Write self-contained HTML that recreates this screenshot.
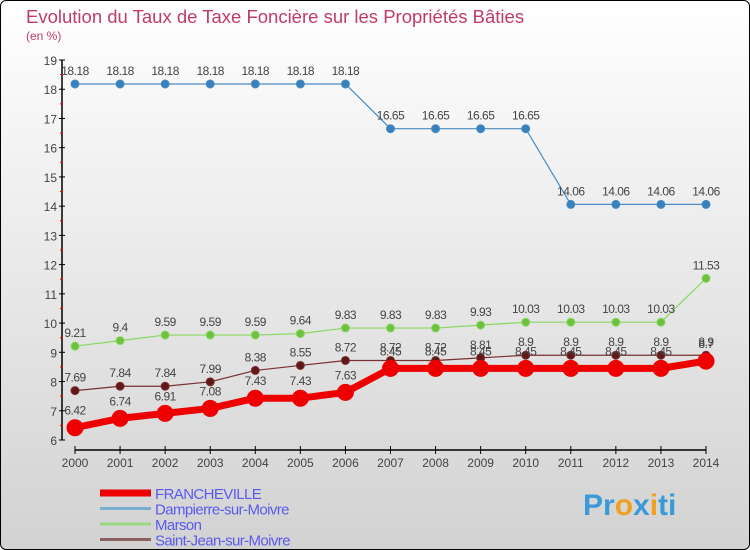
<!DOCTYPE html>
<html><head><meta charset="utf-8"><style>
html,body{margin:0;padding:0;}
body{width:750px;height:550px;overflow:hidden;font-family:"Liberation Sans",sans-serif;}
#frame{position:absolute;left:0;top:0;width:748px;height:548px;border:1px solid #000;border-radius:6px;background:linear-gradient(#ffffff,#d2d2d2);overflow:hidden;}
</style></head><body>
<div id="frame">
<svg id="chart" width="750" height="550" xmlns="http://www.w3.org/2000/svg" style="position:absolute;left:-1px;top:-1px">
<text x="26" y="23" font-size="18.5" fill="#c03a6a">Evolution du Taux de Taxe Foncière sur les Propriétés Bâties</text>
<text x="26" y="40" font-size="12" fill="#c03a6a">(en %)</text>
<g id="axes"></g><g id="series"></g><g id="legend"></g>
<text x="583" y="515" font-size="30" font-weight="bold" fill="#3a9ad9">Pr<tspan fill="#f0a020">o</tspan>x<tspan fill="#f0a020">i</tspan>ti</text>
</svg></div>
<script>
const years=[2000,2001,2002,2003,2004,2005,2006,2007,2008,2009,2010,2011,2012,2013,2014];
const yTicks=[6,7,8,9,10,11,12,13,14,15,16,17,18,19];
const francheville=[6.42,6.74,6.91,7.08,7.43,7.43,7.63,8.45,8.45,8.45,8.45,8.45,8.45,8.45,8.7];
const dampierre=[18.18,18.18,18.18,18.18,18.18,18.18,18.18,16.65,16.65,16.65,16.65,14.06,14.06,14.06,14.06];
const marson=[9.21,9.4,9.59,9.59,9.59,9.64,9.83,9.83,9.83,9.93,10.03,10.03,10.03,10.03,11.53];
const saintJean=[7.69,7.84,7.84,7.99,8.38,8.55,8.72,8.72,8.72,8.81,8.9,8.9,8.9,8.9,8.9];
const NS="http://www.w3.org/2000/svg";
const x=i=>75+(706-75)*i/(years.length-1);
const y=v=>440-(v-6)*(380/13);
function mk(tag,attrs,parent){const e=document.createElementNS(NS,tag);for(const k in attrs)e.setAttribute(k,attrs[k]);parent.appendChild(e);return e;}
const axes=document.getElementById('axes');
let a=mk('line',{x1:62,y1:60,x2:62,y2:440,stroke:'#000','stroke-width':1.5},axes);


a=mk('line',{x1:75,y1:450,x2:706,y2:450,stroke:'#000','stroke-width':1.5},axes);


yTicks.forEach(t=>{
 const yy=y(t);
 mk('line',{x1:59,y1:yy,x2:65,y2:yy,stroke:'#000'},axes);
 if(t<19) mk('line',{x1:60,y1:y(t+0.5),x2:63,y2:y(t+0.5),stroke:'#e00'},axes);
 const tx=mk('text',{x:57,y:yy+5,'font-size':12,fill:'#444','text-anchor':'end'},axes);
 tx.textContent=t;
 
 
});
years.forEach((yr,i)=>{
 mk('line',{x1:x(i),y1:446,x2:x(i),y2:454,stroke:'#000'},axes);
 const tx=mk('text',{x:x(i),y:467,'font-size':12,fill:'#444','text-anchor':'middle'},axes);
 tx.textContent=yr;
 
 
});
const ser=document.getElementById('series');
function draw(vals,color,lw,r,name,dark){
 const g=mk('g',{},ser);
 
 
 mk('polyline',{points:vals.map((v,i)=>x(i)+','+y(v)).join(' '),fill:'none',stroke:color,'stroke-width':lw,'stroke-linejoin':'round'},g);
 vals.forEach((v,i)=>{
  const c=mk('circle',{cx:x(i),cy:y(v),r:r,fill:dark,stroke:color,'stroke-width':1},g);
  
  
  const t=mk('text',{x:x(i),y:y(v)-9-(r>5?4:0),'font-size':12,fill:'#444','text-anchor':'middle','letter-spacing':'-0.5'},g);
  t.textContent=v;
  
  
 });
}
draw(dampierre,'#4a8cc4',1.2,4,'dampierre','#3a80bb');
draw(marson,'#88d860',1.2,4,'marson','#70c040');
draw(saintJean,'#7a3030',1.2,4,'saint-jean','#601818');
draw(francheville,'#ee0000',7,8,'francheville','#ee0000');
const lg=document.getElementById('legend');
const items=[['FRANCHEVILLE','#ee0000',7],['Dampierre-sur-Moivre','#7aaed0',3],['Marson','#99d880',3],['Saint-Jean-sur-Moivre','#8a6060',3]];
items.forEach((it,i)=>{
 const yy=493+i*15.5;
 const g=mk('g',{},lg);
 
 
 mk('line',{x1:100,y1:yy,x2:151,y2:yy,stroke:it[1],'stroke-width':it[2]},g);
 const t=mk('text',{x:155,y:yy+6,'font-size':15,fill:'#5a5aee','letter-spacing':'-0.6'},g);
 t.textContent=it[0];
});
</script>
</body></html>
